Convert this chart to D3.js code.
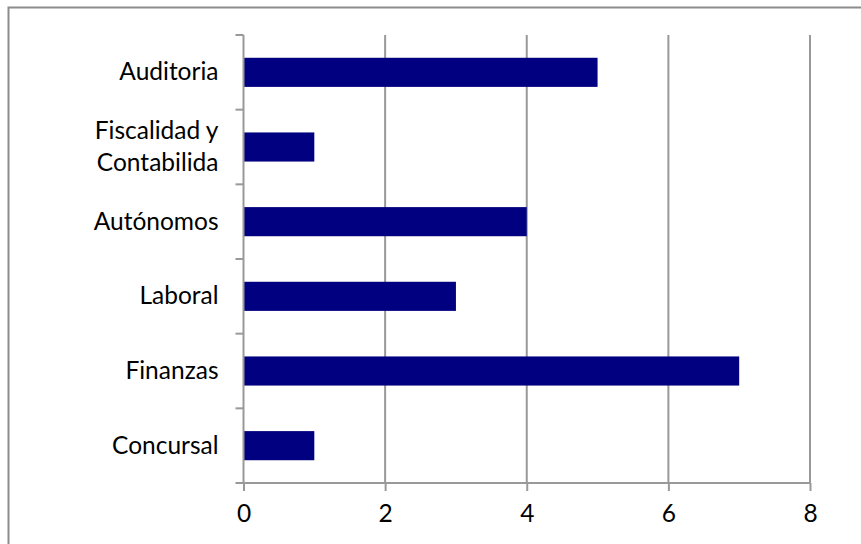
<!DOCTYPE html>
<html><head><meta charset="utf-8">
<script src="https://cdn.jsdelivr.net/npm/d3@7"></script>
<style>body{margin:0;background:#fff}svg{display:block}text{font-family:Lato,"Open Sans",sans-serif;fill:#000}</style>
</head><body>
<script>
const categories = [["Auditoria"], ["Fiscalidad y", "Contabilida"], ["Autónomos"], ["Laboral"], ["Finanzas"], ["Concursal"]];
const values = [5, 1, 4, 3, 7, 1];
const xTicks = [0, 2, 4, 6, 8];

(function () {
const W = 861, H = 544;
const FS = 24.5;
const svg = d3.select("body").append("svg").attr("width", W).attr("height", H);
svg.append("rect").attr("x", 8.5).attr("y", 7.5).attr("width", 870).attr("height", 560)
  .attr("fill", "#fff").attr("stroke", "#8c8c8c").attr("stroke-width", 2);

const pl = 243.5, pr = 810, pt = 35, pb = 483;
const x = d3.scaleLinear().domain([0, 8]).range([pl, pr]);
const idx = categories.map((d, i) => i);
const y = d3.scaleBand().domain(idx).range([pt, pb]).paddingInner(0.61).paddingOuter(0.305);

const gridColor = "#999";
svg.append("g").selectAll("line").data(xTicks.filter(t => t > 0)).join("line")
  .attr("x1", d => x(d)).attr("x2", d => x(d)).attr("y1", pt).attr("y2", pb)
  .attr("stroke", gridColor).attr("stroke-width", 2);

svg.append("g").selectAll("rect").data(values).join("rect")
  .attr("x", x(0)).attr("y", (d, i) => y(i)).attr("width", d => x(d) - x(0))
  .attr("height", y.bandwidth()).attr("fill", "#000080");

const xAxis = svg.append("g").attr("transform", `translate(0,${pb})`)
  .call(d3.axisBottom(x).tickValues(xTicks).tickSize(8).tickPadding(14).tickFormat(d3.format("d")));
xAxis.attr("font-size", FS).attr("font-family", "Lato, 'Open Sans', sans-serif");
xAxis.select(".domain").attr("stroke", gridColor).attr("stroke-width", 2).attr("d", `M${pl - 8},0H${pr}`);
xAxis.selectAll(".tick line").attr("stroke", gridColor).attr("stroke-width", 2);
xAxis.selectAll("text").attr("fill", "#000");

const step = y.step();
const bounds = d3.range(categories.length + 1).map(i => pt + i * step);
svg.append("line").attr("x1", pl).attr("x2", pl).attr("y1", pt).attr("y2", pb)
  .attr("stroke", gridColor).attr("stroke-width", 2);
svg.append("g").selectAll("line").data(bounds.slice(0, -1)).join("line")
  .attr("x1", pl - 8).attr("x2", pl).attr("y1", d => d).attr("y2", d => d)
  .attr("stroke", gridColor).attr("stroke-width", 2);

const lbl = svg.append("g").selectAll("text").data(categories).join("text")
  .attr("text-anchor", "end").attr("font-size", FS)
  .attr("x", pl - 25)
  .attr("y", (d, i) => y(i) + y.bandwidth() / 2);
lbl.each(function (d) {
  const t = d3.select(this);
  const lh = 32;
  d.forEach((s, k) => {
    t.append("tspan").attr("x", pl - 25)
      .attr("dy", k === 0 ? ((-(d.length - 1) * lh / 2) + 8) : lh).text(s);
  });
});
})();
</script>
</body></html>
